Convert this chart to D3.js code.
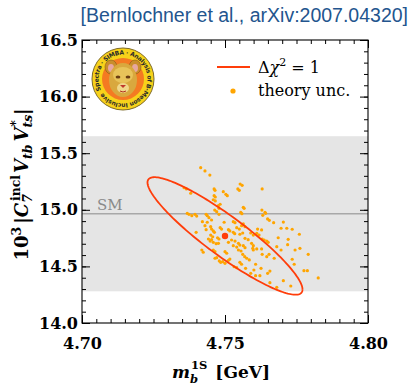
<!DOCTYPE html>
<html>
<head>
<meta charset="utf-8">
<script src="https://cdn.jsdelivr.net/npm/d3@7"></script>
<style>
  body { margin: 0; background: #fff; }
  svg { display: block; }
</style>
</head>
<body>
<div id="chart"></div>
<script>
// --- data ---
const massVals = [4.7415,4.7430,4.7447,4.7357,4.7365,4.7380,4.7462,4.7465,4.7494,4.7503,
  4.7508,4.7545,4.7550,4.7553,4.7560,4.7462,4.7466,4.7459,4.7466,4.7483,
  4.7479,4.7477,4.7464,4.7471,4.7479,4.7564,4.7567,4.7555,4.7559,4.7368,
  4.7374,4.7384,4.7395,4.7401,4.7434,4.7438,4.7444,4.7453,4.7421,4.7438,
  4.7497,4.7529,4.7535,4.7564,4.7630,4.7629,4.7640,4.7642,4.7632,4.7649,
  4.7655,4.7670,4.7704,4.7716,4.7735,4.7760,4.7721,4.7745,4.7762,4.7791,
  4.7776,4.7788,4.7826,4.7704,4.7730,4.7681,4.7657,4.7399,4.7430,4.7434,
  4.7450,4.7453,4.7459,4.7463,4.7483,4.7488,4.7512,4.7517,4.7529,4.7534,
  4.7541,4.7550,4.7558,4.7570,4.7552,4.7562,4.7570,4.7581,4.7590,4.7599,
  4.7442,4.7448,4.7453,4.7459,4.7469,4.7477,4.7450,4.7457,4.7474,4.7479,
  4.7512,4.7523,4.7535,4.7547,4.7552,4.7529,4.7541,4.7564,4.7570,4.7593,
  4.7599,4.7419,4.7424,4.7459,4.7465,4.7500,4.7506,4.7547,4.7556,4.7562,
  4.7569,4.7576,4.7585,4.7597,4.7599,4.7465,4.7471,4.7480,4.7485,4.7492,
  4.7500,4.7512,4.7517,4.7532,4.7541,4.7552,4.7558,4.7572,4.7590,4.7601,
  4.7614,4.7628,4.7611,4.7619,4.7630,4.7637,4.7646,4.7651,4.7696,4.7686,
  4.7719,4.7681,4.7696,4.7611,4.7628,4.7630,4.7646,4.7654,4.7672,4.7735,
  4.7742,4.7607,4.7626,4.7657,4.7649,4.7622,4.7607];
const coeffVals = [15.372,15.343,15.307,15.195,15.184,15.146,15.184,15.172,15.160,15.137,
  15.125,15.184,15.172,15.228,15.216,15.125,15.113,15.089,15.078,15.049,
  15.013,15.036,14.998,14.983,14.960,15.022,15.013,14.978,14.966,14.969,
  14.960,14.948,14.960,14.945,14.960,14.948,14.930,14.910,14.895,14.890,
  14.890,14.895,14.886,14.875,15.184,14.998,14.978,14.969,14.951,14.919,
  14.907,14.886,14.892,14.837,14.828,14.784,14.739,14.645,14.660,14.607,
  14.462,14.462,14.398,14.374,14.327,14.315,14.356,14.801,14.860,14.824,
  14.851,14.830,14.813,14.801,14.842,14.830,14.824,14.813,14.801,14.789,
  14.842,14.830,14.860,14.851,14.784,14.795,14.748,14.736,14.795,14.777,
  14.742,14.724,14.736,14.713,14.701,14.704,14.777,14.762,14.753,14.742,
  14.713,14.733,14.724,14.704,14.688,14.683,14.671,14.683,14.665,14.704,
  14.683,14.645,14.625,14.645,14.630,14.630,14.616,14.645,14.636,14.607,
  14.586,14.572,14.557,14.660,14.645,14.572,14.577,14.548,14.536,14.542,
  14.527,14.554,14.565,14.497,14.489,14.536,14.519,14.483,14.439,14.468,
  14.830,14.822,14.792,14.777,14.742,14.733,14.724,14.713,14.837,14.753,
  14.692,14.674,14.645,14.654,14.654,14.607,14.586,14.607,14.572,14.563,
  14.519,14.519,14.483,14.459,14.439,14.418,14.418];

const bestFit = [4.750, 14.769];          // [m_b, C7]
const fitSigma = [0.0271, 0.519];          // 1 sigma on each
const fitRho = -0.91;                      // correlation
const smValue = 14.965;
const smBand = [14.28, 15.65];

const xDomain = [4.70, 4.80];
const yDomain = [14.0, 16.5];
const xTickVals = [4.70, 4.75, 4.80];
const yTickVals = [14.0, 14.5, 15.0, 15.5, 16.0, 16.5];

// --- layout ---
const W = 411, H = 385;
const margin = {top: 40, right: 43, bottom: 62, left: 82};
const iw = W - margin.left - margin.right;
const ih = H - margin.top - margin.bottom;

const RED = '#ff3d0a';
const ORANGE = '#ffa500';
const SERIF = '"DejaVu Serif", serif';

const svgRoot = d3.select('#chart').append('svg')
    .attr('width', W).attr('height', H);

svgRoot.append('text')
    .attr('x', 408).attr('y', 22)
    .attr('text-anchor', 'end')
    .attr('font-family', '"Liberation Sans", Arial, sans-serif')
    .attr('font-size', 19.5)
    .attr('fill', '#23558e')
    .text('[Bernlochner et al., arXiv:2007.04320]');

const svg = svgRoot.append('g')
    .attr('transform', 'translate(' + margin.left + ',' + margin.top + ')');

const x = d3.scaleLinear().domain(xDomain).range([0, iw]);
const y = d3.scaleLinear().domain(yDomain).range([ih, 0]);

svg.append('defs').append('clipPath').attr('id', 'clip')
  .append('rect').attr('width', iw).attr('height', ih);

const plot = svg.append('g').attr('clip-path', 'url(#clip)');

// SM band and line
plot.append('rect')
    .attr('x', 0).attr('width', iw)
    .attr('y', y(smBand[1]))
    .attr('height', y(smBand[0]) - y(smBand[1]))
    .attr('fill', '#e5e5e5');
plot.append('line')
    .attr('x1', 0).attr('x2', iw)
    .attr('y1', y(smValue)).attr('y2', y(smValue))
    .attr('stroke', '#a8a8a8').attr('stroke-width', 1.5);
plot.append('text')
    .attr('x', 15).attr('y', y(smValue) - 4)
    .attr('font-family', SERIF).attr('font-size', 15)
    .attr('fill', '#8a8a8a')
    .text('SM');

// theory scan points
plot.append('g').selectAll('circle')
    .data(d3.zip(massVals, coeffVals))
    .enter().append('circle')
    .attr('cx', (d) => x(d[0]))
    .attr('cy', (d) => y(d[1]))
    .attr('r', 1.6)
    .attr('fill', ORANGE);

// delta chi2 = 1 contour
const ellipsePts = d3.range(0, 2 * Math.PI + 0.01, Math.PI / 90).map((t) => [
  bestFit[0] + fitSigma[0] * Math.cos(t),
  bestFit[1] + fitSigma[1] * (fitRho * Math.cos(t) +
      Math.sqrt(1 - fitRho * fitRho) * Math.sin(t)),
]);
plot.append('path')
    .datum(ellipsePts)
    .attr('d', d3.line().x((d) => x(d[0])).y((d) => y(d[1])))
    .attr('fill', 'none')
    .attr('stroke', RED)
    .attr('stroke-width', 1.8);
plot.append('circle')
    .attr('cx', x(bestFit[0])).attr('cy', y(bestFit[1]))
    .attr('r', 3.2).attr('fill', RED);

// --- axes: ticks inward on all four sides ---
const xMinor = d3.range(0, 21).map((i) => xDomain[0] + i * 0.005);
const yMinor = d3.range(0, 26).map((i) => yDomain[0] + i * 0.1);

function styleAxis(g) {
  g.select('.domain').remove();
  g.selectAll('.tick line').attr('stroke', '#000').attr('stroke-width', 1);
  g.selectAll('.tick text')
      .attr('font-family', SERIF)
      .attr('font-weight', 'bold')
      .attr('font-size', 16)
      .attr('fill', '#000');
}

svg.append('g').attr('transform', 'translate(0,' + ih + ')')
    .call(d3.axisBottom(x).tickValues(xTickVals).tickSize(-8).tickPadding(15)
        .tickFormat(d3.format('.2f')))
    .call(styleAxis);
svg.append('g').attr('transform', 'translate(0,' + ih + ')')
    .call(d3.axisBottom(x).tickValues(xMinor).tickSize(-4).tickFormat(''))
    .call(styleAxis);
svg.append('g')
    .call(d3.axisTop(x).tickValues(xTickVals).tickSize(-8).tickFormat(''))
    .call(styleAxis);
svg.append('g')
    .call(d3.axisTop(x).tickValues(xMinor).tickSize(-4).tickFormat(''))
    .call(styleAxis);

svg.append('g')
    .call(d3.axisLeft(y).tickValues(yTickVals).tickSize(-8).tickPadding(4)
        .tickFormat(d3.format('.1f')))
    .call(styleAxis);
svg.append('g')
    .call(d3.axisLeft(y).tickValues(yMinor).tickSize(-4).tickFormat(''))
    .call(styleAxis);
svg.append('g').attr('transform', 'translate(' + iw + ',0)')
    .call(d3.axisRight(y).tickValues(yTickVals).tickSize(-8).tickFormat(''))
    .call(styleAxis);
svg.append('g').attr('transform', 'translate(' + iw + ',0)')
    .call(d3.axisRight(y).tickValues(yMinor).tickSize(-4).tickFormat(''))
    .call(styleAxis);

svg.append('rect')
    .attr('width', iw).attr('height', ih)
    .attr('fill', 'none').attr('stroke', '#000').attr('stroke-width', 1.1);

// x label: m_b^1S [GeV]
const xl = svg.append('text')
    .attr('x', iw / 2 - 4).attr('y', ih + 55)
    .attr('text-anchor', 'middle')
    .attr('font-family', SERIF).attr('font-weight', 'bold')
    .attr('font-size', 17);
xl.append('tspan').attr('font-style', 'italic').text('m');
xl.append('tspan').attr('font-style', 'italic').attr('font-size', 11.5)
    .attr('dy', 5).text('b');
xl.append('tspan').attr('font-size', 11.5).attr('dx', -7).attr('dy', -14).text('1S');
xl.append('tspan').attr('dy', 9).attr('dx', 8).text('[GeV]');

// y label: 10^3 |C_7^incl V_tb V_ts^*|
const yl = svg.append('text')
    .attr('transform', 'translate(-54,' + (ih / 2 + 3) + ') rotate(-90)')
    .attr('text-anchor', 'middle')
    .attr('font-family', SERIF).attr('font-weight', 'bold')
    .attr('font-size', 18);
yl.append('tspan').text('10');
yl.append('tspan').attr('font-size', 12.5).attr('dy', -7).text('3');
yl.append('tspan').attr('dy', 7).attr('dx', 3).text('|');
yl.append('tspan').attr('font-style', 'italic').text('C');
yl.append('tspan').attr('font-style', 'italic').attr('font-size', 12.5)
    .attr('dy', 4).text('7');
yl.append('tspan').attr('font-size', 12.5).attr('dx', -7).attr('dy', -12).text('incl');
yl.append('tspan').attr('font-style', 'italic').attr('dy', 8).attr('dx', 2).text('V');
yl.append('tspan').attr('font-style', 'italic').attr('font-size', 12.5)
    .attr('dy', 4).text('tb');
yl.append('tspan').attr('font-style', 'italic').attr('dy', -4).attr('dx', 3).text('V');
yl.append('tspan').attr('font-style', 'italic').attr('font-size', 12.5)
    .attr('dy', 4).text('ts');
yl.append('tspan').attr('font-size', 12.5).attr('dx', -12).attr('dy', -12).text('*');
yl.append('tspan').attr('dy', 8).attr('dx', 5).text('|');

// legend
const lg = svg.append('g').attr('font-family', SERIF).attr('font-size', 16);
lg.append('line')
    .attr('x1', 135).attr('x2', 168).attr('y1', 27).attr('y2', 27)
    .attr('stroke', RED).attr('stroke-width', 1.8);
const l1 = lg.append('text').attr('x', 176).attr('y', 33);
l1.append('tspan').text('Δ');
l1.append('tspan').attr('font-style', 'italic').text('χ');
l1.append('tspan').attr('font-size', 11).attr('dy', -7).text('2');
l1.append('tspan').attr('dy', 7).text(' = 1');
lg.append('circle').attr('cx', 151).attr('cy', 51).attr('r', 2.6).attr('fill', ORANGE);
lg.append('text').attr('x', 176).attr('y', 56).text('theory unc.');

// SIMBA logo
const logo = svg.append('g').attr('transform', 'translate(41,39)');
logo.append('circle').attr('r', 31).attr('fill', '#f7d21a')
    .attr('stroke', '#7d6a2a').attr('stroke-width', 1);
logo.append('circle').attr('r', 21).attr('fill', '#f47a22');
const ring = d3.path();
ring.arc(0, 0, 24.5, Math.PI * 0.85, Math.PI * 2.85);
logo.append('defs').append('path').attr('id', 'ringPath').attr('d', ring.toString());
logo.append('text')
    .attr('font-family', '"DejaVu Sans", sans-serif')
    .attr('font-size', 6).attr('font-weight', 'bold').attr('fill', '#2a2a2a')
  .append('textPath').attr('href', '#ringPath')
    .attr('textLength', 150).attr('lengthAdjust', 'spacing')
    .text('Spectra · SIMBA · Analysis of B-Meson Inclusive');
// lion cub head
logo.append('ellipse').attr('cx', -12).attr('cy', -12).attr('rx', 6).attr('ry', 7)
    .attr('fill', '#c98e2c').attr('stroke', '#8a5a18').attr('stroke-width', 0.6);
logo.append('ellipse').attr('cx', 12).attr('cy', -12).attr('rx', 6).attr('ry', 7)
    .attr('fill', '#c98e2c').attr('stroke', '#8a5a18').attr('stroke-width', 0.6);
logo.append('ellipse').attr('cx', -12).attr('cy', -11).attr('rx', 3).attr('ry', 4)
    .attr('fill', '#e7a7a0');
logo.append('ellipse').attr('cx', 12).attr('cy', -11).attr('rx', 3).attr('ry', 4)
    .attr('fill', '#e7a7a0');
logo.append('ellipse').attr('cx', 0).attr('cy', 1).attr('rx', 14).attr('ry', 17)
    .attr('fill', '#d9a83e');
logo.append('ellipse').attr('cx', 0).attr('cy', -4).attr('rx', 10).attr('ry', 8)
    .attr('fill', '#e8c35a');
logo.append('ellipse').attr('cx', -5).attr('cy', -2).attr('rx', 2.4).attr('ry', 1.5)
    .attr('fill', '#6b3d12');
logo.append('ellipse').attr('cx', 5).attr('cy', -2).attr('rx', 2.4).attr('ry', 1.5)
    .attr('fill', '#6b3d12');
logo.append('ellipse').attr('cx', 0).attr('cy', 9).attr('rx', 6).attr('ry', 5)
    .attr('fill', '#f0d78a');
logo.append('path').attr('d', 'M-3,6 L3,6 L0,9 Z').attr('fill', '#c0392b');
logo.append('path').attr('d', 'M-3,12 Q0,14 3,12').attr('fill', 'none')
    .attr('stroke', '#b03020').attr('stroke-width', 1);
</script>
</body>
</html>
